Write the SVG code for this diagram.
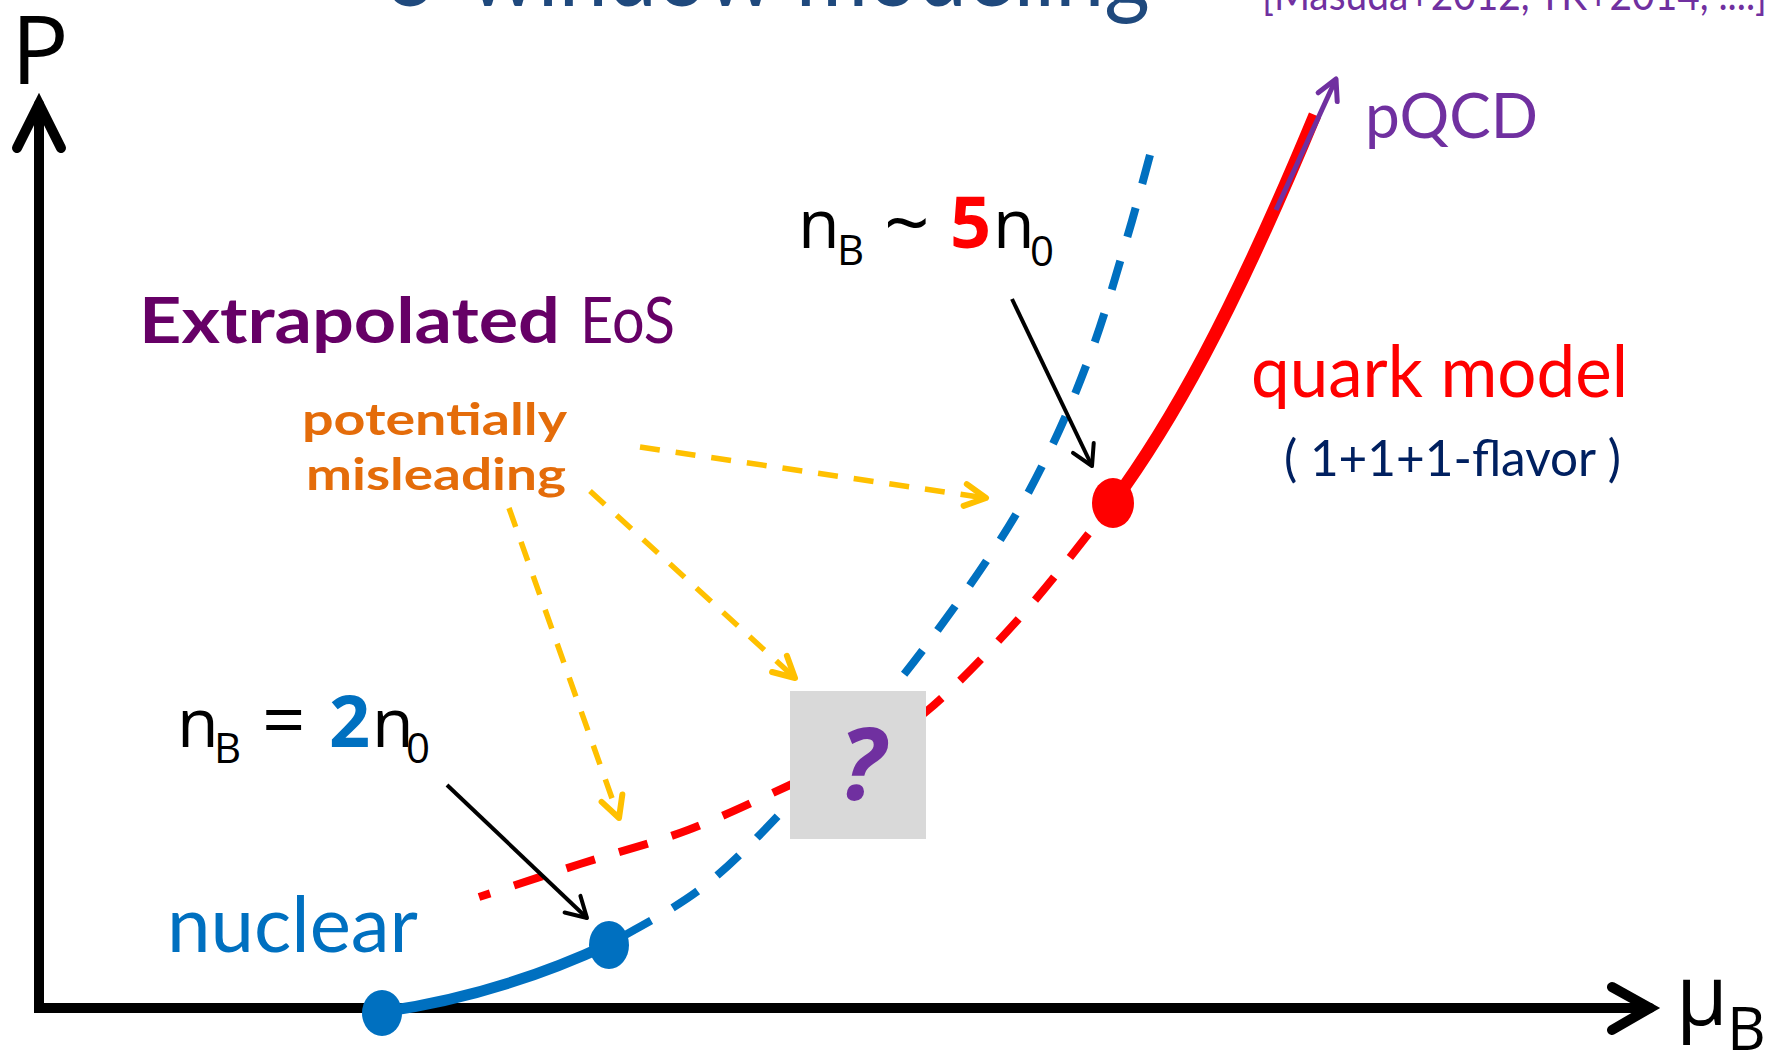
<svg xmlns="http://www.w3.org/2000/svg" width="1783" height="1053" viewBox="0 0 1783 1053">
<style>
.gs{font-family:Lato,"Open Sans","Liberation Sans",sans-serif}
.cb{font-family:"Open Sans","Noto Sans","Liberation Sans",sans-serif}
.axis{fill:none;stroke:#000;stroke-width:10;stroke-linecap:round;stroke-linejoin:miter}
.dashB{fill:none;stroke:#0070C0;stroke-width:8;stroke-dasharray:30 25}
.dashR{fill:none;stroke:#FF0000;stroke-width:8;stroke-dasharray:30 25}
.yel{fill:none;stroke:#FFC000;stroke-width:5.5;stroke-dasharray:20 16}
.blk{fill:none;stroke:#000;stroke-width:4}
</style>
<defs>
<marker id="ahY" markerUnits="userSpaceOnUse" markerWidth="40" markerHeight="40" viewBox="-30 -20 40 40" refX="0" refY="0" orient="auto" overflow="visible">
<path d="M-21,-11 L0,0 L-21,11" fill="none" stroke="#FFC000" stroke-width="6" stroke-linecap="round" stroke-linejoin="round"/>
</marker>
<marker id="ahK" markerUnits="userSpaceOnUse" markerWidth="40" markerHeight="40" viewBox="-30 -20 40 40" refX="0" refY="0" orient="auto" overflow="visible">
<path d="M-20,-11.5 L0,0 L-20,11.5" fill="none" stroke="#000" stroke-width="4" stroke-linecap="round" stroke-linejoin="round"/>
</marker>
<marker id="ahP" markerUnits="userSpaceOnUse" markerWidth="40" markerHeight="40" viewBox="-30 -20 40 40" refX="0" refY="0" orient="auto" overflow="visible">
<path d="M-20,-10.5 L0,0 L-20,10.5" fill="none" stroke="#7030A0" stroke-width="5" stroke-linecap="round" stroke-linejoin="round"/>
</marker>
</defs>
<rect width="1783" height="1053" fill="#fff"/>

<g id="title">
<text class="gs" x="385" y="6" font-size="96" fill="#1F497D" textLength="765" lengthAdjust="spacingAndGlyphs">3-window modeling</text>
</g>
<g id="citation">
<text class="gs" x="1262" y="10" font-size="42" fill="#7030A0" textLength="505" lengthAdjust="spacingAndGlyphs">[Masuda+2012, TK+2014, ....]</text>
</g>

<g id="axes">
<path class="axis" d="M39,104 L39,1008 L1650,1008"/>
<path class="axis" d="M17,148 L39,104 L61,148" stroke-linejoin="round"/>
<path class="axis" d="M1612,987 L1650,1008 L1612,1030" stroke-linejoin="round"/>
</g>
<g id="label-P"><text class="cb" x="11" y="84" font-size="96" fill="#000">P</text></g>
<g id="label-muB"><text class="cb" x="1676" y="1025" font-size="84" fill="#000">μ<tspan x="1727" y="1050" font-size="60">B</tspan></text></g>

<g id="connectors">
<path id="blue-dashed" class="dashB" d="M1150,155 C1146.2,168.8 1136.5,206 1127,238 C1117.5,270 1105.8,311.7 1093,347 C1080.2,382.3 1066.3,416.5 1050,450 C1033.7,483.5 1020.3,509.3 995,548 C969.7,586.7 931.7,640 898,682 C864.3,724 825.5,765.8 793,800 C760.5,834.2 733.7,863 703,887 C672.3,911 624.7,934.5 609,944"/>
<path id="red-dashed" class="dashR" stroke-dashoffset="18" d="M479,897 C495.8,891.5 545.2,875.2 580,864 C614.8,852.8 653,843.2 688,830 C723,816.8 761.7,798 790,785 C818.3,772 835.2,764.3 858,752 C880.8,739.7 899.5,734 927,711 C954.5,688 992.2,648.5 1023,614 C1053.8,579.5 1097.2,522.3 1112,504"/>
<path id="red-solid" d="M1112,504 C1170,425 1230,320 1315,115" fill="none" stroke="#FF0000" stroke-width="13"/>
<path id="blue-solid" d="M382,1012 Q500,995 609,944" fill="none" stroke="#0070C0" stroke-width="11" stroke-linecap="round"/>
<path id="pqcd-arrow" d="M1276,210 L1336,79" fill="none" stroke="#7030A0" stroke-width="5" marker-end="url(#ahP)"/>
<path id="yellow-1" class="yel" d="M640,447 L986,498" marker-end="url(#ahY)"/>
<path id="yellow-2" class="yel" d="M590,491 L795,678" marker-end="url(#ahY)"/>
<path id="yellow-3" class="yel" d="M509,508 L619,818" marker-end="url(#ahY)"/>
<path id="black-1" class="blk" d="M1012,299 L1092,466" marker-end="url(#ahK)"/>
<path id="black-2" class="blk" d="M447,785 L587,918" marker-end="url(#ahK)"/>
</g>

<g id="unknown-box">
<rect x="790" y="691" width="136" height="148" fill="#D9D9D9"/>
<text class="cb" x="862" y="800" font-size="100" font-weight="bold" font-style="italic" fill="#7030A0" text-anchor="middle">?</text>
</g>

<g id="dot-nuclear-low"><ellipse cx="382" cy="1013" rx="20" ry="23" fill="#0070C0"/></g>
<g id="dot-nuclear-2n0"><ellipse cx="609" cy="945" rx="20" ry="24" fill="#0070C0"/></g>
<g id="dot-quark-5n0"><ellipse cx="1113" cy="503" rx="21" ry="25" fill="#FF0000"/></g>

<g id="label-pQCD"><text class="gs" x="1365" y="138" font-size="62" fill="#7030A0" textLength="173" lengthAdjust="spacingAndGlyphs">pQCD</text></g>
<g id="label-quark"><text class="gs" x="1251" y="397" font-size="72" fill="#FF0000" textLength="377" lengthAdjust="spacingAndGlyphs">quark model</text></g>
<g id="label-flavor"><text class="gs" x="1284" y="476" font-size="50" fill="#002060" textLength="337" lengthAdjust="spacingAndGlyphs">( 1+1+1-flavor )</text></g>
<g id="label-extrapolated"><text class="gs" y="343" font-size="64" fill="#660066"><tspan x="139" font-weight="bold" textLength="421" lengthAdjust="spacingAndGlyphs">Extrapolated</tspan><tspan x="580" textLength="95" lengthAdjust="spacingAndGlyphs">EoS</tspan></text></g>
<g id="label-misleading">
<text class="gs" x="302" y="435" font-size="44" font-weight="bold" fill="#E46C0A" textLength="265" lengthAdjust="spacingAndGlyphs">potentially</text>
<text class="gs" x="306" y="490" font-size="44" font-weight="bold" fill="#E46C0A" textLength="260" lengthAdjust="spacingAndGlyphs">misleading</text>
</g>
<g id="label-nuclear"><text class="gs" x="167" y="952" font-size="78" fill="#0070C0" textLength="251" lengthAdjust="spacingAndGlyphs">nuclear</text></g>
<g id="label-5n0"><text class="cb" y="248" font-size="68" fill="#000"><tspan x="798">n</tspan><tspan x="837" y="265" font-size="42">B</tspan><tspan x="884" y="251" font-size="80">~</tspan><tspan x="950" y="248" font-size="72" font-weight="bold" fill="#FF0000">5</tspan><tspan x="993">n</tspan><tspan x="1030" y="266" font-size="42">0</tspan></text></g>
<g id="label-2n0"><text class="cb" y="747" font-size="68" fill="#000"><tspan x="177">n</tspan><tspan x="214" y="763" font-size="42">B</tspan><tspan x="262" y="747" font-size="76">=</tspan><tspan x="329" font-size="72" font-weight="bold" fill="#0070C0">2</tspan><tspan x="372">n</tspan><tspan x="406" y="763" font-size="42">0</tspan></text></g>
</svg>
